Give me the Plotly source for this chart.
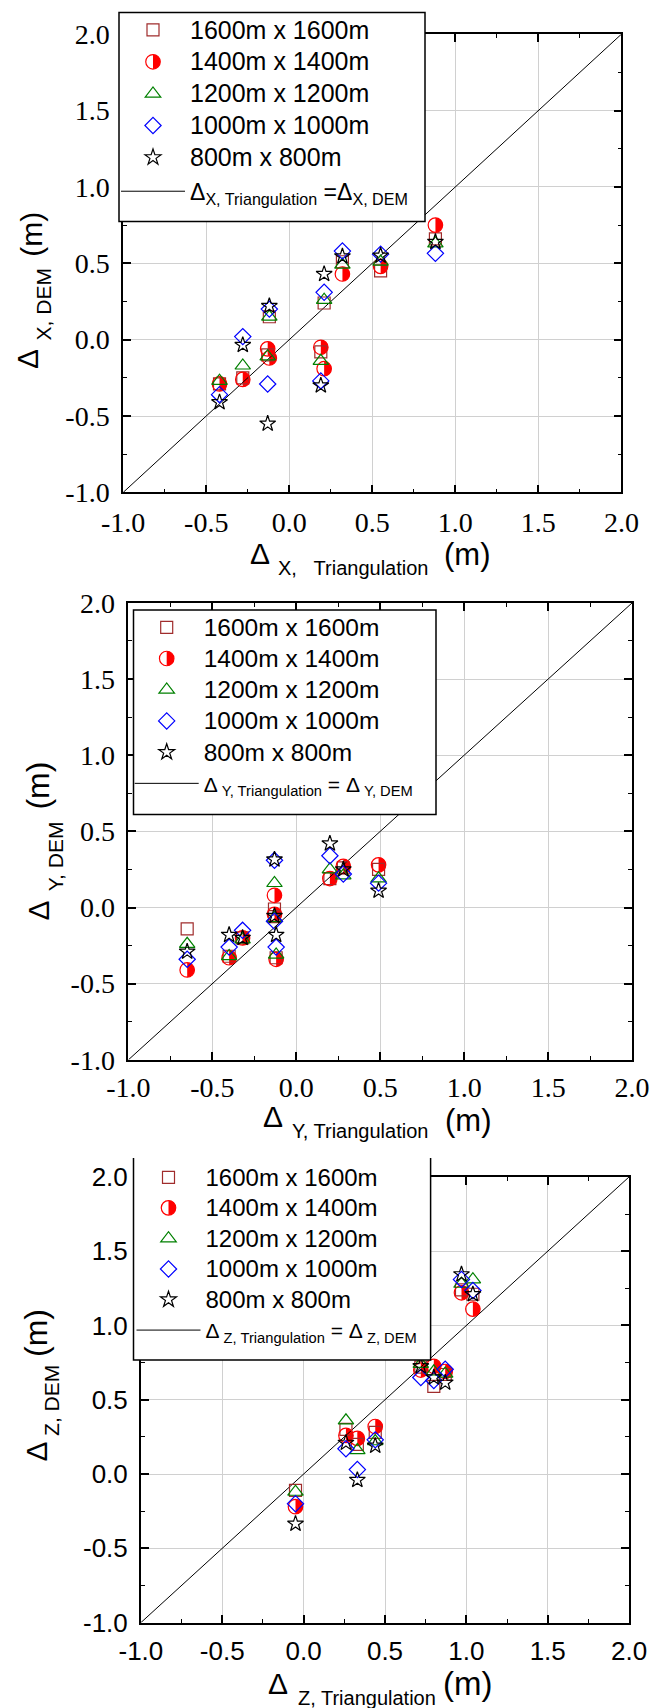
import plotly.graph_objects as go

W, H = 654, 1708

# ---------------- data ----------------
series_names = ["1600m x 1600m", "1400m x 1400m", "1200m x 1200m",
                "1000m x 1000m", "800m x 800m"]
tick_vals = [-1.0, -0.5, 0.0, 0.5, 1.0, 1.5, 2.0]
tick_text = ["-1.0", "-0.5", "0.0", "0.5", "1.0", "1.5", "2.0"]
diag = [-1.0, 2.0]

# Panel 1: Delta X
tri_x = [-0.42, -0.28, -0.12, -0.13, 0.21, 0.19, 0.32, 0.55, 0.88]
dem_x_1600 = [-0.29, -0.25, 0.15, -0.10, 0.24, -0.08, 0.51, 0.45, 0.66]
dem_x_1400 = [-0.29, -0.26, -0.12, -0.06, -0.19, -0.05, 0.43, 0.48, 0.75]
dem_x_1200 = [-0.27, -0.17, 0.15, -0.11, 0.26, -0.14, 0.49, 0.51, 0.63]
dem_x_1000 = [-0.36, 0.02, 0.20, -0.29, 0.31, -0.27, 0.58, 0.56, 0.565]
dem_x_800 = [-0.41, -0.035, 0.22, -0.55, 0.43, -0.30, 0.545, 0.55, 0.64]

# Panel 2: Delta Y
tri_y = [-0.65, -0.40, -0.32, -0.13, -0.13, -0.12, 0.20, 0.28, 0.49]
dem_y_1600 = [-0.14, -0.32, -0.20, -0.01, -0.06, -0.33, 0.19, 0.26, 0.25]
dem_y_1400 = [-0.41, -0.33, -0.20, 0.08, -0.045, -0.34, 0.19, 0.27, 0.28]
dem_y_1200 = [-0.24, -0.32, -0.21, 0.16, -0.07, -0.31, 0.25, 0.21, 0.19]
dem_y_1000 = [-0.34, -0.26, -0.15, 0.31, -0.09, -0.26, 0.34, 0.22, 0.16]
dem_y_800 = [-0.29, -0.18, -0.20, 0.315, -0.055, -0.18, 0.42, 0.25, 0.11]

# Panel 3: Delta Z
tri_z = [-0.05, 0.26, 0.33, 0.44, 0.72, 0.80, 0.87, 0.97, 1.04]
dem_z_1600 = [-0.11, 0.30, 0.20, 0.28, 0.72, 0.59, 0.67, 1.24, 1.21]
dem_z_1400 = [-0.22, 0.26, 0.24, 0.32, 0.70, 0.725, 0.69, 1.22, 1.11]
dem_z_1200 = [-0.12, 0.36, 0.16, 0.22, 0.74, 0.69, 0.675, 1.28, 1.31]
dem_z_1000 = [-0.20, 0.17, 0.03, 0.23, 0.65, 0.63, 0.705, 1.31, 1.235]
dem_z_800 = [-0.335, 0.21, -0.04, 0.19, 0.725, 0.65, 0.615, 1.344, 1.21]

# ---------------- styles ----------------
SANS = "Liberation Sans, Arial, sans-serif"
SERIF = "Liberation Serif, Times New Roman, DejaVu Serif, serif"
symbols = ["square-open", "circle-open", "triangle-up-open", "diamond-open", "star-open"]
colors = ["#a02c2c", "#ff0000", "#008000", "#0000ff", "#000000"]
sizes = [12, 14.5, 13.5, 12.5, 12]
HALF_R = 7.25
HALF_SERIES = 1  # index of the half-filled circle series


def fx(p):
    return p / W


def fy(p):
    return 1 - p / H


def half_path(r):
    k = 0.5523 * r
    return (f"M0,{-r} C{k:.2f},{-r} {r},{-k:.2f} {r},0 "
            f"C{r},{k:.2f} {k:.2f},{r} 0,{r} Z")


panels = [
    dict(xs=tri_x, ys=[dem_x_1600, dem_x_1400, dem_x_1200, dem_x_1000, dem_x_800],
         dom_x=(122.3, 622.3), dom_y=(33.3, 493.3), x_standoff=4,
         tickfont=dict(family=SERIF, size=28, color="black"),
         leg=dict(left=116, top=9.0, fs=22.2, text=25, gap=2, line_fs=23),
         box=(119, 12.5, 425, 221.4), open_top=False,
         line_label="Δ<sub>X, Triangulation</sub> =Δ<sub>X, DEM</sub>",
         xt=dict(d=(260, 553.5), sub_left=277, sub_y=567.5, sub="X,\u00a0\u00a0\u00a0Triangulation",
                 m_left=443, m_y=554.5, m_fs=31),
         yt=dict(d=(27.9, 359), sub=(44.4, 304), subtext="X, DEM", m=(31.3, 234.5), m_fs=30)),
    dict(xs=tri_y, ys=[dem_y_1600, dem_y_1400, dem_y_1200, dem_y_1000, dem_y_800],
         dom_x=(127.5, 633.0), dom_y=(602.0, 1060.7), x_standoff=2,
         tickfont=dict(family=SERIF, size=28, color="black"),
         leg=dict(left=129.7, top=606.7, fs=21.7, text=24.5, gap=0, line_fs=21),
         box=(133.5, 610, 436, 814.6), open_top=False,
         line_label="Δ<sub> Y, Triangulation</sub> = Δ<sub> Y, DEM</sub>",
         xt=dict(d=(272.5, 1116), sub_left=291, sub_y=1131, sub="Y, Triangulation",
                 m_left=444, m_y=1120, m_fs=31),
         yt=dict(d=(37.6, 911), sub=(55.2, 856), subtext="Y, DEM", m=(37.6, 786), m_fs=32)),
    dict(xs=tri_z, ys=[dem_z_1600, dem_z_1400, dem_z_1200, dem_z_1000, dem_z_800],
         dom_x=(140.0, 630.0), dom_y=(1176.0, 1623.5), x_standoff=4,
         tickfont=dict(family=SANS, size=26, color="black"),
         leg=dict(left=131.5, top=1157.0, fs=21.2, text=24, gap=0, line_fs=21),
         box=(133.5, 1158, 430.6, 1360), open_top=True,
         line_label="Δ<sub> Z, Triangulation</sub> = Δ<sub> Z, DEM</sub>",
         xt=dict(d=(278, 1683), sub_left=297, sub_y=1698, sub="Z, Triangulation",
                 m_left=442, m_y=1683, m_fs=33),
         yt=dict(d=(35.6, 1452), sub=(51.4, 1400.5), subtext="Z, DEM", m=(36, 1333), m_fs=32)),
]

fig = go.Figure()
shapes = []
annotations = []
layout_axes = {}

for i, p in enumerate(panels):
    n = "" if i == 0 else str(i + 1)
    xa, ya = "x" + n, "y" + n
    lg = "legend" + n
    # diagonal reference line
    fig.add_trace(go.Scatter(
        x=diag, y=diag, mode="lines", xaxis=xa, yaxis=ya,
        line=dict(color="black", width=1),
        name=f'<span style="font-size:{p["leg"]["line_fs"]}px">{p["line_label"]}</span>',
        legend=lg, legendgroup=f"line{i}", legendrank=10, hoverinfo="skip"))
    for j, nm in enumerate(series_names):
        fig.add_trace(go.Scatter(
            x=p["xs"], y=p["ys"][j], mode="markers", xaxis=xa, yaxis=ya,
            marker=dict(symbol=symbols[j], size=sizes[j], color=colors[j],
                        line=dict(color=colors[j], width=1.2)),
            name=f'<span style="font-size:{p["leg"]["text"]}px">{nm}</span>',
            legend=lg, legendgroup=f"mk{i}", legendrank=j + 1))
    # right half fill of the 1400 m circles
    for xv, yv in zip(p["xs"], p["ys"][HALF_SERIES]):
        shapes.append(dict(type="path", xref=xa, yref=ya, xsizemode="pixel",
                           ysizemode="pixel", xanchor=xv, yanchor=yv,
                           path=half_path(HALF_R), fillcolor="red",
                           line=dict(width=0), layer="between"))

    ax_common = dict(range=[-1, 2], tickmode="array", tickvals=tick_vals, ticktext=tick_text,
                     showline=True, linecolor="black", linewidth=1.8, mirror="allticks",
                     ticks="inside", ticklen=8, tickwidth=1.5, tickcolor="black",
                     showgrid=True, gridcolor="#d0d0d0", gridwidth=1, zeroline=False,
                     minor=dict(ticks="inside", ticklen=4, tickwidth=1.2, tickcolor="black",
                                tickmode="linear", tick0=-1, dtick=0.25, showgrid=False),
                     tickfont=p["tickfont"], fixedrange=True, automargin=False)
    x0, x1 = p["dom_x"]
    yt_, yb_ = p["dom_y"]
    layout_axes["xaxis" + n] = dict(ax_common, domain=[fx(x0 + 0.9), fx(x1 - 0.9)],
                                    anchor=ya, ticklabelstandoff=p["x_standoff"])
    layout_axes["yaxis" + n] = dict(ax_common, domain=[fy(yb_ - 0.9), fy(yt_ + 0.9)],
                                    anchor=xa, ticklabelstandoff=6)

    # legend
    L = p["leg"]
    layout_axes[lg] = dict(x=fx(L["left"]), y=fy(L["top"]), xanchor="left", yanchor="top",
                           bgcolor="rgba(0,0,0,0)", borderwidth=0,
                           font=dict(family=SANS, size=L["fs"], color="black"),
                           itemwidth=64, tracegroupgap=L["gap"], traceorder="grouped")
    bx0, by0, bx1, by1 = p["box"]
    if p["open_top"]:
        shapes.append(dict(type="rect", xref="paper", yref="paper", x0=fx(bx0), x1=fx(bx1),
                           y0=fy(by1), y1=fy(by0), fillcolor="white", line=dict(width=0),
                           layer="above"))
        shapes.append(dict(type="path", xref="paper", yref="paper",
                           path=f"M{fx(bx0)},{fy(by0)} L{fx(bx0)},{fy(by1)} "
                                f"L{fx(bx1)},{fy(by1)} L{fx(bx1)},{fy(by0)}",
                           line=dict(color="black", width=1.5), layer="above"))
    else:
        shapes.append(dict(type="rect", xref="paper", yref="paper", x0=fx(bx0), x1=fx(bx1),
                           y0=fy(by1), y1=fy(by0), fillcolor="white",
                           line=dict(color="black", width=1.5), layer="above"))
    # half-fill for the legend circle symbol (row 2)
    row_h = L["fs"] * 1.3 + 3
    cx = L["left"] + (64 + 10) / 2
    cy = L["top"] + 5 + row_h * 1.5
    shapes.append(dict(type="path", xref="paper", yref="paper", xsizemode="pixel",
                       ysizemode="pixel", xanchor=fx(cx), yanchor=fy(cy),
                       path=half_path(HALF_R), fillcolor="red", line=dict(width=0),
                       layer="above"))

    # axis titles (x)
    t = p["xt"]
    annotations += [
        dict(text="Δ", x=fx(t["d"][0]), y=fy(t["d"][1]), xanchor="center", yanchor="middle",
             font=dict(family=SANS, size=30, color="black")),
        dict(text=t["sub"], x=fx(t["sub_left"]), y=fy(t["sub_y"]), xanchor="left",
             yanchor="middle", font=dict(family=SANS, size=20, color="black")),
        dict(text="(m)", x=fx(t["m_left"]), y=fy(t["m_y"]), xanchor="left", yanchor="middle",
             font=dict(family=SANS, size=t["m_fs"], color="black")),
    ]
    # axis titles (y, rotated)
    t = p["yt"]
    annotations += [
        dict(text="Δ", x=fx(t["d"][0]), y=fy(t["d"][1]), xanchor="center", yanchor="middle",
             textangle=-90, font=dict(family=SANS, size=30, color="black")),
        dict(text=t["subtext"], x=fx(t["sub"][0]), y=fy(t["sub"][1]), xanchor="center",
             yanchor="middle", textangle=-90, font=dict(family=SANS, size=21, color="black")),
        dict(text="(m)", x=fx(t["m"][0]), y=fy(t["m"][1]), xanchor="center", yanchor="middle",
             textangle=-90, font=dict(family=SANS, size=t["m_fs"], color="black")),
    ]

for a in annotations:
    a.update(xref="paper", yref="paper", showarrow=False, borderpad=0)

fig.update_layout(
    width=W, height=H, autosize=False,
    margin=dict(l=0, r=0, t=0, b=0, pad=0, autoexpand=False),
    paper_bgcolor="white", plot_bgcolor="white",
    font=dict(family=SANS, color="black"),
    shapes=shapes, annotations=annotations,
    **layout_axes,
)

fig.write_html("out.html")
